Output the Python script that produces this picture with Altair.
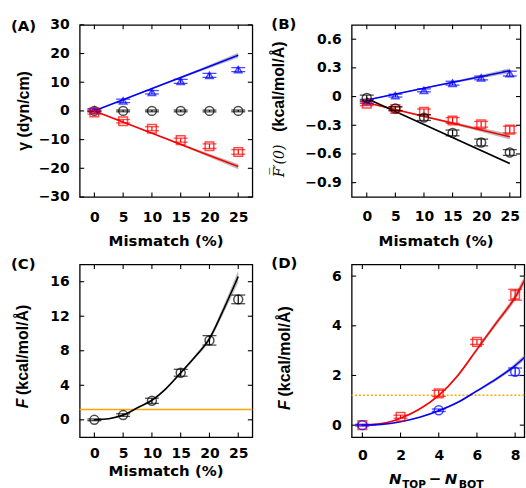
import altair as alt
import pandas as pd

FONT = "DejaVu Sans"
TITLE_FONT = "Liberation Sans"
SERIF = "DejaVu Serif"
BLUE = "#0000ff"
RED = "#ff0000"
BLACK = "#000000"
ORANGE = "#ffa500"
BAND = "#b0b0b0"

# ---------------- data ----------------
mismatch = [0, 5, 10, 15, 20, 25]
mismatch_ticks = [0, 5, 10, 15, 20, 25]

# (A) surface tension gamma (dyn/cm)
gamma_top = [0.3, 3.5, 6.5, 10.3, 12.4, 14.4]
gamma_top_err = [0.5, 0.6, 0.6, 0.7, 0.7, 0.7]
gamma_bot = [-0.5, -3.6, -6.2, -10.2, -12.3, -14.3]
gamma_bot_err = [0.6, 0.6, 0.7, 0.7, 0.8, 0.8]
gamma_sym = [0, 0, 0, 0, 0, 0]
gamma_sym_err = [0.3, 0.3, 0.3, 0.3, 0.3, 0.3]
lin_fit_x = [0, 12.5, 25]
gamma_top_fit = [0.0, 9.7, 19.4]
gamma_bot_fit = [0.0, -9.7, -19.4]
gamma_band = [0.1, 0.3, 0.9]
gamma_ticks = [-30, -20, -10, 0, 10, 20, 30]

# (B) F'(0) slope (kcal/mol/A)
slope_top = [-0.05, 0.01, 0.065, 0.14, 0.195, 0.24]
slope_top_err = [0.02, 0.015, 0.015, 0.02, 0.02, 0.025]
slope_bot = [-0.075, -0.13, -0.16, -0.25, -0.29, -0.345]
slope_bot_err = [0.02, 0.02, 0.03, 0.03, 0.03, 0.035]
slope_sym = [-0.015, -0.125, -0.22, -0.38, -0.48, -0.585]
slope_sym_err = [0.03, 0.02, 0.03, 0.03, 0.035, 0.03]
slope_top_fit = [-0.035, 0.118, 0.27]
slope_bot_fit = [-0.065, -0.243, -0.42]
slope_sym_fit = [-0.02, -0.36, -0.70]
slope_top_band = [0.005, 0.008, 0.025]
slope_bot_band = [0.005, 0.01, 0.03]
slope_sym_band = [0.003, 0.005, 0.01]
slope_ticks = [-0.9, -0.6, -0.3, 0, 0.3, 0.6]

# (C) F vs mismatch
c_force = [0, 0.55, 2.2, 5.45, 9.2, 13.95]
c_force_err = [0.1, 0.15, 0.3, 0.4, 0.55, 0.5]
c_fit_x = [0, 2.5, 5, 7.5, 10, 12.5, 15, 17.5, 20, 22.5, 25]
c_fit = [0, 0.12, 0.55, 1.4, 2.27, 3.65, 5.44, 7.3, 9.4, 12.85, 16.6]
c_band = [0.02, 0.03, 0.05, 0.07, 0.1, 0.12, 0.15, 0.2, 0.3, 0.45, 0.7]
c_ticks = [0, 4, 8, 12, 16]
threshold = 1.2

# (D) F vs N_TOP - N_BOT
d_ticks_x = [0, 2, 4, 6, 8]
d_ticks_y = [0, 2, 4, 6]
d_red_x = [0, 2, 4, 6, 8]
d_red = [0, 0.34, 1.28, 3.35, 5.25]
d_red_err = [0.03, 0.06, 0.12, 0.1, 0.22]
d_blue_x = [0, 4, 8]
d_blue = [0, 0.6, 2.15]
d_blue_err = [0.03, 0.05, 0.15]
d_fit_x = [0, 1, 2, 3, 4, 5, 6, 7, 8, 8.6]
d_red_fit = [0, 0.06, 0.28, 0.65, 1.2, 2.0, 3.05, 4.1, 5.15, 6.0]
d_blue_fit = [0, 0.03, 0.14, 0.32, 0.58, 0.92, 1.38, 1.85, 2.4, 2.8]
d_red_band = [0.0, 0.01, 0.02, 0.03, 0.04, 0.06, 0.08, 0.1, 0.14, 0.18]
d_blue_band = [0.0, 0.01, 0.01, 0.02, 0.03, 0.04, 0.05, 0.07, 0.09, 0.11]


# ---------------- helpers ----------------
class Panel:
    def __init__(self, xdom, ydom, W, H, xticks, yticks, xpad, ypad=10.5,
                 xfmt="d", ylabel_expr=None):
        self.W, self.H = W, H
        self.xticks, self.yticks = xticks, yticks
        self.xs = alt.Scale(domain=xdom, nice=False, zero=False)
        self.ys = alt.Scale(domain=ydom, nice=False, zero=False)
        xa = dict(values=xticks, ticks=False, domain=False, grid=False,
                  labelPadding=xpad, format=xfmt, title=None, labelFlush=False)
        ya = dict(values=yticks, ticks=False, domain=False, grid=False,
                  labelPadding=ypad, title=None, labelFlush=False)
        if ylabel_expr:
            ya["labelExpr"] = ylabel_expr
        else:
            ya["format"] = "d"
        self.xaxis = alt.Axis(**xa)
        self.yaxis = alt.Axis(**ya)
        self.layers = []

    def X(self, f):
        return alt.X(f"{f}:Q", scale=self.xs, axis=self.xaxis, title=None)

    def Y(self, f):
        return alt.Y(f"{f}:Q", scale=self.ys, axis=self.yaxis, title=None)

    def Y2(self, f):
        return alt.Y2(f"{f}:Q")

    def frame_ticks(self, L=4.5):
        tx = pd.DataFrame({"tx": self.xticks})
        ty = pd.DataFrame({"ty": self.yticks})
        st = dict(color="black", strokeWidth=1.1)
        W, H = self.W, self.H
        self.layers += [
            alt.Chart(tx).mark_rule(**st).encode(x=self.X("tx"), y=alt.value(H), y2=alt.value(H - L)),
            alt.Chart(tx).mark_rule(**st).encode(x=self.X("tx"), y=alt.value(0), y2=alt.value(L)),
            alt.Chart(ty).mark_rule(**st).encode(y=self.Y("ty"), x=alt.value(0), x2=alt.value(L)),
            alt.Chart(ty).mark_rule(**st).encode(y=self.Y("ty"), x=alt.value(W), x2=alt.value(W - L)),
        ]

    def band(self, xs, fit, half):
        df = pd.DataFrame({"bx": xs,
                           "lo": [f - h for f, h in zip(fit, half)],
                           "hi": [f + h for f, h in zip(fit, half)]})
        self.layers.append(
            alt.Chart(df).mark_area(color=BAND, opacity=0.85, clip=True, interpolate="monotone")
            .encode(x=self.X("bx"), y=self.Y("lo"), y2=self.Y2("hi")))

    def line(self, xs, ys, color, dash=None, width=1.6):
        df = pd.DataFrame({"lx": xs, "ly": ys})
        kw = dict(color=color, strokeWidth=width, clip=True, interpolate="monotone")
        if dash:
            kw["strokeDash"] = dash
        self.layers.append(alt.Chart(df).mark_line(**kw).encode(x=self.X("lx"), y=self.Y("ly")))

    def hline(self, yv, color, dash=None):
        df = pd.DataFrame({"hy": [yv]})
        kw = dict(color=color, strokeWidth=1.5)
        if dash:
            kw["strokeDash"] = dash
        self.layers.append(alt.Chart(df).mark_rule(**kw).encode(y=self.Y("hy")))

    def points(self, xs, ys, errs, color, shape, size=80, cap=14):
        df = pd.DataFrame({"px": xs, "py": ys,
                           "elo": [y - e for y, e in zip(ys, errs)],
                           "ehi": [y + e for y, e in zip(ys, errs)]})
        base = alt.Chart(df)
        self.layers += [
            base.mark_rule(color=color, strokeWidth=1.2).encode(
                x=self.X("px"), y=self.Y("elo"), y2=self.Y2("ehi")),
            base.mark_tick(color=color, orient="horizontal", size=cap, thickness=1.3).encode(
                x=self.X("px"), y=self.Y("elo")),
            base.mark_tick(color=color, orient="horizontal", size=cap, thickness=1.3).encode(
                x=self.X("px"), y=self.Y("ehi")),
            base.mark_point(shape=shape, filled=False, size=size, color=color,
                            strokeWidth=1.5).encode(x=self.X("px"), y=self.Y("py")),
        ]

    def text(self, s, x, y, font=FONT, size=15, weight="bold", style="normal",
             angle=0, align="left", baseline="middle"):
        df = pd.DataFrame({"s": [s]})
        self.layers.append(
            alt.Chart(df).mark_text(font=font, fontSize=size, fontWeight=weight,
                                    fontStyle=style, angle=angle, align=align,
                                    baseline=baseline, color="black")
            .encode(x=alt.value(x), y=alt.value(y), text="s:N"))

    def chart(self):
        return alt.layer(*self.layers).properties(width=self.W, height=self.H)


# ---------------- (A) ----------------
A = Panel([-2.55, 27.45], [-30, 30], 173.3, 172.8, mismatch_ticks, gamma_ticks, xpad=14)
A.layers.append(
    alt.Chart(pd.DataFrame({"o": [0]})).mark_rect(opacity=0).encode(
        x=alt.value(-79), x2=alt.value(-78), y=alt.value(-22.7), y2=alt.value(-21.7)))
A.frame_ticks()
A.band(lin_fit_x, gamma_top_fit, gamma_band)
A.band(lin_fit_x, gamma_bot_fit, gamma_band)
A.line(lin_fit_x, gamma_top_fit, BLUE)
A.line(lin_fit_x, gamma_bot_fit, RED)
A.points(mismatch, gamma_sym, gamma_sym_err, BLACK, "circle")
A.points(mismatch, gamma_top, gamma_top_err, BLUE, "triangle-up", size=55)
A.points(mismatch, gamma_bot, gamma_bot_err, RED, "square", size=75)
A.text("(A)", -69, 1.5)
A.text("\u03b3 (dyn/cm)", -56, 86.4, font=TITLE_FONT, size=16, angle=270, align="center")
A.text("Mismatch (%)", 86.7, 222.3, baseline="alphabetic", align="center")

# ---------------- (B) ----------------
B = Panel([-2.64, 26.86], [-1.05, 0.75], 169.4, 172.8, mismatch_ticks, slope_ticks, xpad=13,
          ylabel_expr="datum.value == 0 ? '0' : format(datum.value, '.1f')")
B.frame_ticks()
B.band(lin_fit_x, slope_top_fit, slope_top_band)
B.band(lin_fit_x, slope_bot_fit, slope_bot_band)
B.band(lin_fit_x, slope_sym_fit, slope_sym_band)
B.line(lin_fit_x, slope_top_fit, BLUE)
B.line(lin_fit_x, slope_bot_fit, RED)
B.line(lin_fit_x, slope_sym_fit, BLACK)
B.points(mismatch, slope_top, slope_top_err, BLUE, "triangle-up", size=55)
B.points(mismatch, slope_bot, slope_bot_err, RED, "square", size=75)
B.points(mismatch, slope_sym, slope_sym_err, BLACK, "circle")
B.text("(B)", -80.6, -1)
B.text("F\u0305\u2032(0)", -72, 153, font=SERIF, size=14, weight="normal", style="italic",
       angle=270)
B.text("(kcal/mol/\u00c5)", -73.3, 107.3, font=TITLE_FONT, size=16, angle=270)
B.text("Mismatch (%)", 84.7, 222.3, baseline="alphabetic", align="center")

# ---------------- (C) ----------------
C = Panel([-2.55, 27.45], [-2, 18], 173.3, 173.3, mismatch_ticks, c_ticks, xpad=10)
C.frame_ticks()
C.hline(threshold, ORANGE)
C.band(c_fit_x, c_fit, c_band)
C.line(c_fit_x, c_fit, BLACK)
C.points(mismatch, c_force, c_force_err, BLACK, "circle")
C.text("(C)", -69, -0.5)
C.text("F", -57, 144.3, font=TITLE_FONT, size=16, style="italic", angle=270)
C.text("(kcal/mol/\u00c5)", -57, 131, font=TITLE_FONT, size=16, angle=270)
C.text("Mismatch (%)", 86.7, 212, baseline="alphabetic", align="center")

# ---------------- (D) ----------------
D = Panel([-0.56, 8.48], [-0.48, 6.47], 173.3, 173.3, d_ticks_x, d_ticks_y, xpad=12)
D.frame_ticks()
D.hline(threshold, ORANGE, dash=[2, 2])
D.band(d_fit_x, d_red_fit, d_red_band)
D.band(d_fit_x, d_blue_fit, d_blue_band)
D.line(d_fit_x, d_red_fit, RED)
D.line(d_fit_x, d_blue_fit, BLUE)
D.points(d_red_x, d_red, d_red_err, RED, "square", size=75)
D.points(d_blue_x, d_blue, d_blue_err, BLUE, "circle")
D.text("(D)", -80.6, -1)
D.text("F", -67.3, 146, font=TITLE_FONT, size=16, style="italic", angle=270)
D.text("(kcal/mol/\u00c5)", -67.3, 132.5, font=TITLE_FONT, size=16, angle=270)
D.text("N", 37.4, 220.3, style="italic", baseline="alphabetic")
D.text("TOP", 50.7, 224.5, size=10.5, baseline="alphabetic")
D.text("\u2212", 77.4, 220.3, baseline="alphabetic")
D.text("N", 93.4, 220.3, style="italic", baseline="alphabetic")
D.text("BOT", 107.4, 224.5, size=11, baseline="alphabetic")

chart = (
    alt.concat(A.chart(), B.chart(), C.chart(), D.chart(), columns=2,
               spacing={"row": 67.5, "column": 99.0}, bounds="flush")
    .properties(padding=0)
    .configure_view(stroke="black", strokeWidth=1.3)
    .configure_axis(labelFont=FONT, labelFontWeight="bold", labelFontSize=14,
                    labelColor="black")
)

chart.save("out.html", embed_options={"renderer": "svg", "actions": False})
